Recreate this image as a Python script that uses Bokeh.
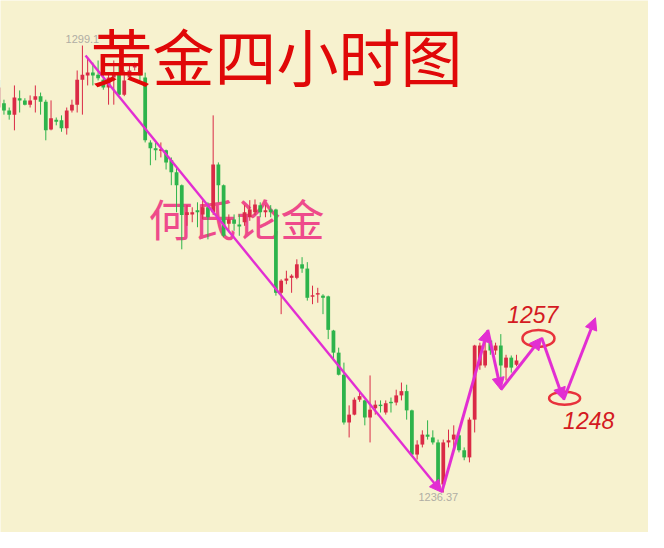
import numpy as np
from bokeh.plotting import figure
from bokeh.models import ColumnDataSource, Range1d, Arrow, NormalHead, Label
from bokeh.core.properties import value
from bokeh.embed import file_html
from bokeh.resources import INLINE

# ---- 4-hour gold candles (price) ----
open_ = [1290.4, 1294.3, 1291.0, 1290.0, 1289.4, 1291.7, 1291.4, 1290.8, 1291.5, 1292.0,
         1291.2, 1287.3, 1288.7, 1288.6, 1287.5, 1290.0, 1290.8, 1294.3, 1294.9, 1295.3,
         1295.0, 1294.3, 1293.2, 1294.6, 1295.0, 1292.2, 1294.6, 1296.0, 1295.9, 1294.6,
         1285.5, 1284.7, 1284.4, 1284.4, 1283.0, 1281.3, 1279.5, 1275.3, 1275.4, 1276.0,
         1275.4, 1276.4, 1275.7, 1282.4, 1279.5, 1274.1, 1274.7, 1274.0, 1274.3, 1275.0,
         1275.7, 1276.7, 1275.7, 1276.1, 1276.1, 1264.4, 1266.1, 1266.5, 1266.5, 1268.4,
         1267.8, 1263.9, 1264.2, 1264.0, 1263.9, 1259.1, 1256.0, 1252.9, 1246.2, 1247.3,
         1249.4, 1249.3, 1246.9, 1248.2, 1248.7, 1247.6, 1249.1, 1249.0, 1250.0, 1250.6,
         1247.9, 1241.7, 1243.1, 1244.5, 1244.1, 1243.4, 1237.5, 1243.4, 1243.8, 1244.4,
         1242.3, 1241.3, 1246.6, 1254.2, 1254.2, 1257.7, 1256.3, 1257.0, 1253.9, 1255.3,
         1254.3]
high = [1294.3, 1294.6, 1291.5, 1290.4, 1293.5, 1292.8, 1291.7, 1292.1, 1293.5, 1292.5,
        1291.5, 1291.4, 1289.0, 1289.3, 1290.4, 1291.5, 1295.6, 1299.1, 1297.4, 1296.7,
        1297.0, 1295.0, 1295.3, 1297.0, 1296.4, 1295.6, 1296.4, 1296.7, 1296.4, 1295.3,
        1285.8, 1285.5, 1285.5, 1284.5, 1283.4, 1282.0, 1279.6, 1276.7, 1276.4, 1277.1,
        1277.4, 1277.1, 1289.3, 1282.7, 1279.6, 1275.4, 1275.4, 1275.4, 1276.7, 1277.4,
        1277.5, 1277.1, 1276.7, 1276.7, 1276.2, 1266.3, 1267.5, 1267.0, 1269.1, 1269.4,
        1268.7, 1265.4, 1265.1, 1264.2, 1264.0, 1259.2, 1256.7, 1254.6, 1248.6, 1249.7,
        1250.7, 1249.4, 1252.8, 1249.3, 1249.3, 1249.3, 1249.7, 1250.8, 1251.8, 1251.5,
        1248.0, 1243.7, 1245.1, 1246.5, 1245.1, 1243.8, 1243.8, 1245.2, 1245.8, 1244.8,
        1242.7, 1246.9, 1257.1, 1257.4, 1257.9, 1257.9, 1257.4, 1258.6, 1255.7, 1255.6,
        1255.7]
low = [1288.7, 1290.1, 1289.4, 1288.7, 1287.2, 1289.7, 1290.7, 1290.4, 1289.7, 1289.4,
       1285.8, 1287.2, 1287.9, 1287.0, 1286.6, 1289.7, 1289.7, 1289.4, 1293.5, 1293.5,
       1294.2, 1292.9, 1290.8, 1290.8, 1292.1, 1292.0, 1294.3, 1295.6, 1294.2, 1285.5,
       1282.3, 1283.0, 1283.4, 1281.7, 1279.5, 1275.7, 1270.5, 1273.8, 1274.3, 1273.6,
       1274.7, 1271.9, 1275.3, 1277.1, 1272.2, 1272.9, 1273.1, 1272.4, 1273.8, 1274.5,
       1275.3, 1275.0, 1275.0, 1275.0, 1264.0, 1261.4, 1265.6, 1264.4, 1266.3, 1267.2,
       1263.3, 1262.8, 1263.0, 1261.4, 1257.9, 1254.9, 1252.8, 1245.9, 1244.1, 1247.2,
       1249.1, 1245.8, 1243.4, 1247.3, 1247.6, 1247.3, 1247.6, 1248.6, 1249.3, 1246.6,
       1241.6, 1241.0, 1242.7, 1243.8, 1243.1, 1237.4, 1236.37, 1242.7, 1242.4, 1242.0,
       1240.9, 1240.6, 1244.8, 1253.6, 1253.9, 1255.7, 1255.7, 1252.2, 1252.1, 1253.2,
       1254.1]
close = [1293.2, 1291.1, 1290.0, 1289.4, 1291.8, 1291.4, 1290.8, 1291.4, 1292.0, 1291.2,
         1287.2, 1288.9, 1288.4, 1287.5, 1290.0, 1290.8, 1294.3, 1295.0, 1295.3, 1294.9,
         1294.5, 1293.2, 1294.6, 1295.0, 1292.2, 1294.2, 1295.6, 1296.3, 1294.9, 1285.8,
         1284.7, 1284.4, 1284.5, 1282.7, 1281.3, 1279.5, 1275.3, 1275.7, 1275.7, 1275.7,
         1276.4, 1275.0, 1282.4, 1279.5, 1272.4, 1274.7, 1274.1, 1273.7, 1275.7, 1276.1,
         1276.8, 1275.7, 1276.0, 1275.7, 1264.4, 1266.1, 1266.4, 1266.8, 1268.4, 1267.8,
         1263.7, 1264.0, 1264.3, 1263.7, 1259.2, 1256.0, 1252.9, 1246.2, 1247.3, 1249.4,
         1249.9, 1246.9, 1248.0, 1248.7, 1248.5, 1248.9, 1248.9, 1250.0, 1250.6, 1247.9,
         1241.7, 1243.1, 1244.5, 1244.2, 1243.4, 1237.5, 1243.4, 1243.7, 1244.5, 1242.3,
         1241.3, 1246.6, 1257.0, 1257.0, 1256.3, 1256.3, 1257.0, 1254.2, 1255.3, 1253.9,
         1254.9]

# ---- annotations (bar index, price) ----
path_x = [17.6, 85.7, 94.5, 97.0, 104.8, 109.0, 115.1]
path_y = [1297.7, 1236.4, 1259.2, 1250.8, 1258.1, 1249.4, 1260.9]
ring_x = [104.2, 109.2]
ring_y = [1258.0, 1249.6]
target_x = [103.1, 113.8]
target_y = [1261.4, 1246.5]
target_text = ["1257", "1248"]
extreme_x = [17, 86]
extreme_y = [1299.1, 1236.37]
extreme_text = ["1299.1", "1236.37"]
title_text = "黄金四小时图"
mark_text = "何氏论金"

BG = "#F7F2CF"
UP = "#DA2A46"
DOWN = "#2DB44B"
MAG = "#E22ED2"

n = len(open_)
idx = np.arange(n)
o = np.array(open_); c = np.array(close)
top = np.maximum(o, c); bot = np.minimum(o, c)
mid = (top + bot) / 2
hh = np.maximum(top - bot, 0.2)
colors = [UP if c[i] >= o[i] else DOWN for i in range(n)]
src = ColumnDataSource(dict(x=idx, high=high, low=low, top=mid + hh / 2, bottom=mid - hh / 2, color=colors))

p = figure(width=648, height=532, output_backend="svg", toolbar_location=None,
           x_range=Range1d(1.338, 125.24), y_range=Range1d(1230.76, 1305.42),
           x_axis_location=None, y_axis_location=None, min_border=0,
           background_fill_color=BG, border_fill_color=BG, outline_line_color=None)
p.xgrid.visible = False
p.ygrid.visible = False

# watermark under candles
p.add_layout(Label(x=236, y=315, x_units="screen", y_units="screen", text=mark_text,
                   text_align="center", text_baseline="middle", text_font="Noto Sans CJK SC",
                   text_font_size="44px", text_color="#EE4B8B", level="underlay"))

p.segment(x0="x", y0="low", x1="x", y1="high", color="color", line_width=1, source=src)
p.vbar(x="x", top="top", bottom="bottom", width=0.72, fill_color="color", line_color=None, source=src)

# grey extreme labels
p.text(x=[extreme_x[0]], y=[extreme_y[0]], text=[extreme_text[0]], text_align="center",
       text_baseline="bottom", y_offset=-3, text_font=value("Liberation Sans"),
       text_font_size="11px", text_color="#B0AEA4")
p.text(x=[extreme_x[1]], y=[extreme_y[1]], text=[extreme_text[1]], text_align="center",
       text_baseline="top", y_offset=0, x_offset=-5, text_font=value("Liberation Sans"),
       text_font_size="11px", text_color="#B0AEA4")

# trend/forecast arrows
first = ColumnDataSource(dict(x0=path_x[:1], y0=path_y[:1], x1=path_x[1:2], y1=path_y[1:2]))
rest = ColumnDataSource(dict(x0=path_x[1:-1], y0=path_y[1:-1], x1=path_x[2:], y1=path_y[2:]))
p.add_layout(Arrow(end=NormalHead(size=12, fill_color=MAG, line_color=MAG, line_width=1),
                   x_start="x0", y_start="y0", x_end="x1", y_end="y1", source=first,
                   line_color=MAG, line_width=2.4))
p.add_layout(Arrow(end=NormalHead(size=12, fill_color=MAG, line_color=MAG, line_width=1),
                   x_start="x0", y_start="y0", x_end="x1", y_end="y1", source=rest,
                   line_color=MAG, line_width=3))

# target rings and labels
p.ellipse(x=[ring_x[0]], y=[ring_y[0]], width=32, height=17, width_units="screen",
          height_units="screen", fill_color=None, line_color="#E8323C", line_width=2.5)
p.ellipse(x=[ring_x[1]], y=[ring_y[1]], width=31, height=13, width_units="screen",
          height_units="screen", fill_color=None, line_color="#E8323C", line_width=2.5)
p.text(x=target_x, y=target_y, text=target_text, text_align="center", text_baseline="middle",
       text_font=value("Liberation Sans"), text_font_style="italic", text_font_size="23px",
       text_color="#D41A22")

# title
p.add_layout(Label(x=276, y=478, x_units="screen", y_units="screen", text=title_text,
                   text_align="center", text_baseline="middle", text_font="Noto Sans CJK SC",
                   text_font_size="62px", text_color="#E00808"))

html = file_html(p, INLINE)
html = html.replace("<body", '<body style="background-color:%s;"' % BG, 1)
open("out.html", "w").write(html)
